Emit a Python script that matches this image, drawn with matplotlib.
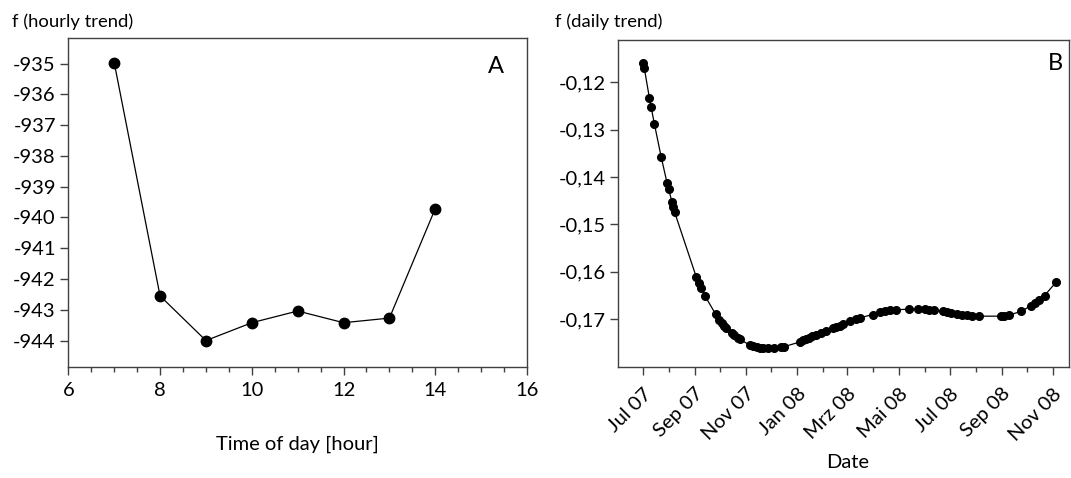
import numpy as np
import pandas as pd
import matplotlib
matplotlib.use('Agg')
from matplotlib import pyplot as plt
import matplotlib.dates as mdates
from matplotlib.ticker import MultipleLocator, FuncFormatter

plt.rcParams['font.family'] = ['Lato', 'DejaVu Sans']
plt.rcParams['axes.unicode_minus'] = False

# Panel A: hourly trend
hours = [7, 8, 9, 10, 11, 12, 13, 14]
hourly = [-934.97, -942.55, -944.00, -943.42, -943.04, -943.42, -943.27, -939.71]

# Panel B: daily trend
dates = ['2007-07-02', '2007-07-03', '2007-07-09', '2007-07-11', '2007-07-15', '2007-07-23',
         '2007-07-30', '2007-08-01', '2007-08-05', '2007-08-06', '2007-08-08', '2007-09-03',
         '2007-09-06', '2007-09-09', '2007-09-13', '2007-09-26', '2007-09-30', '2007-10-04',
         '2007-10-06', '2007-10-08', '2007-10-15', '2007-10-18', '2007-10-23', '2007-10-25',
         '2007-11-06', '2007-11-10', '2007-11-14', '2007-11-18', '2007-11-22', '2007-11-27',
         '2007-12-04', '2007-12-13', '2007-12-16', '2008-01-05', '2008-01-08', '2008-01-12',
         '2008-01-15', '2008-01-19', '2008-01-23', '2008-01-29', '2008-02-05', '2008-02-13',
         '2008-02-17', '2008-02-21', '2008-02-25', '2008-03-04', '2008-03-11', '2008-03-16',
         '2008-03-31', '2008-04-09', '2008-04-15', '2008-04-21', '2008-04-28', '2008-05-13',
         '2008-05-24', '2008-06-01', '2008-06-06', '2008-06-12', '2008-06-23', '2008-06-28',
         '2008-07-03', '2008-07-09', '2008-07-16', '2008-07-21', '2008-07-28', '2008-08-05',
         '2008-08-31', '2008-09-03', '2008-09-10', '2008-09-24', '2008-10-06', '2008-10-11',
         '2008-10-15', '2008-10-22', '2008-11-05']
daily = [-0.11599, -0.11705, -0.12323, -0.12513, -0.12879, -0.13568,
         -0.14117, -0.14257, -0.14532, -0.14623, -0.14736, -0.16114,
         -0.16241, -0.16353, -0.16501, -0.16895, -0.17014, -0.17084,
         -0.17141, -0.17190, -0.17288, -0.17338, -0.17401, -0.17429,
         -0.17549, -0.17577, -0.17598, -0.17612, -0.17619, -0.17619,
         -0.17619, -0.17591, -0.17584, -0.17478, -0.17450, -0.17422,
         -0.17394, -0.17359, -0.17331, -0.17295, -0.17246, -0.17197,
         -0.17169, -0.17141, -0.17105, -0.17049, -0.17000, -0.16972,
         -0.16902, -0.16852, -0.16831, -0.16817, -0.16803, -0.16789,
         -0.16789, -0.16789, -0.16803, -0.16817, -0.16838, -0.16852,
         -0.16873, -0.16895, -0.16909, -0.16916, -0.16923, -0.16937,
         -0.16937, -0.16937, -0.16909, -0.16838, -0.16712, -0.16662,
         -0.16606, -0.16501, -0.16212]

month_names = {1: 'Jan', 3: 'Mrz', 5: 'Mai', 7: 'Jul', 9: 'Sep', 11: 'Nov'}

fig = plt.figure(figsize=(10.71, 4.78), dpi=100)
axA = fig.add_axes([0.0638, 0.2328, 0.4283, 0.6877])
axB = fig.add_axes([0.5773, 0.2322, 0.4208, 0.6840])

for ax in (axA, axB):
    for s in ax.spines.values():
        s.set_color('#404040')
        s.set_linewidth(1.0)
    ax.tick_params(which='major', direction='out', length=6, width=1, color='#404040', labelsize=14.5)
    ax.tick_params(which='minor', direction='out', length=3.5, width=1, color='#404040')

# A
axA.plot(hours, hourly, '-', color='black', lw=0.9, marker='o', ms=7.5)
axA.set_xlim(6, 16)
axA.set_ylim(-944.85, -934.17)
axA.xaxis.set_major_locator(MultipleLocator(2))
axA.xaxis.set_minor_locator(MultipleLocator(0.5))
axA.set_yticks(np.arange(-944, -934, 1))
axA.tick_params(axis='x', pad=5)
axA.tick_params(axis='y', pad=3)
axA.text(0.932, 0.912, 'A', transform=axA.transAxes, fontsize=17, ha='center', va='center')

# B
d = pd.to_datetime(dates)
axB.plot(d, daily, '-', color='black', lw=0.9, marker='o', ms=5.5)
axB.set_xlim(pd.Timestamp('2007-06-02'), pd.Timestamp('2008-11-20'))
axB.set_ylim(-0.1801, -0.1111)
axB.set_yticks(np.arange(-0.17, -0.115, 0.01))
axB.yaxis.set_major_formatter(FuncFormatter(lambda v, p: ('%.2f' % v).replace('.', ',')))
axB.xaxis.set_major_locator(mdates.MonthLocator(bymonth=[1, 3, 5, 7, 9, 11]))
axB.xaxis.set_minor_locator(mdates.MonthLocator())
axB.xaxis.set_major_formatter(FuncFormatter(
    lambda v, p: month_names[mdates.num2date(v).month] + mdates.num2date(v).strftime(' %y')))
for lbl in axB.get_xticklabels():
    lbl.set_rotation(45)
    lbl.set_ha('right')
    lbl.set_rotation_mode('anchor')
axB.tick_params(axis='x', pad=7)
axB.tick_params(axis='y', pad=3)
axB.text(0.971, 0.927, 'B', transform=axB.transAxes, fontsize=17, ha='center', va='center')

fig.text(0.011, 0.954, 'f (hourly trend)', fontsize=13.3, ha='left', va='center')
fig.text(0.518, 0.954, 'f (daily trend)', fontsize=13.3, ha='left', va='center')
fig.text(297 / 1071, 1 - 444 / 478, 'Time of day [hour]', fontsize=14.5, ha='center', va='center')
fig.text(848 / 1071, 1 - 462 / 478, 'Date', fontsize=14.5, ha='center', va='center')

fig.savefig('out.png', dpi=100)
